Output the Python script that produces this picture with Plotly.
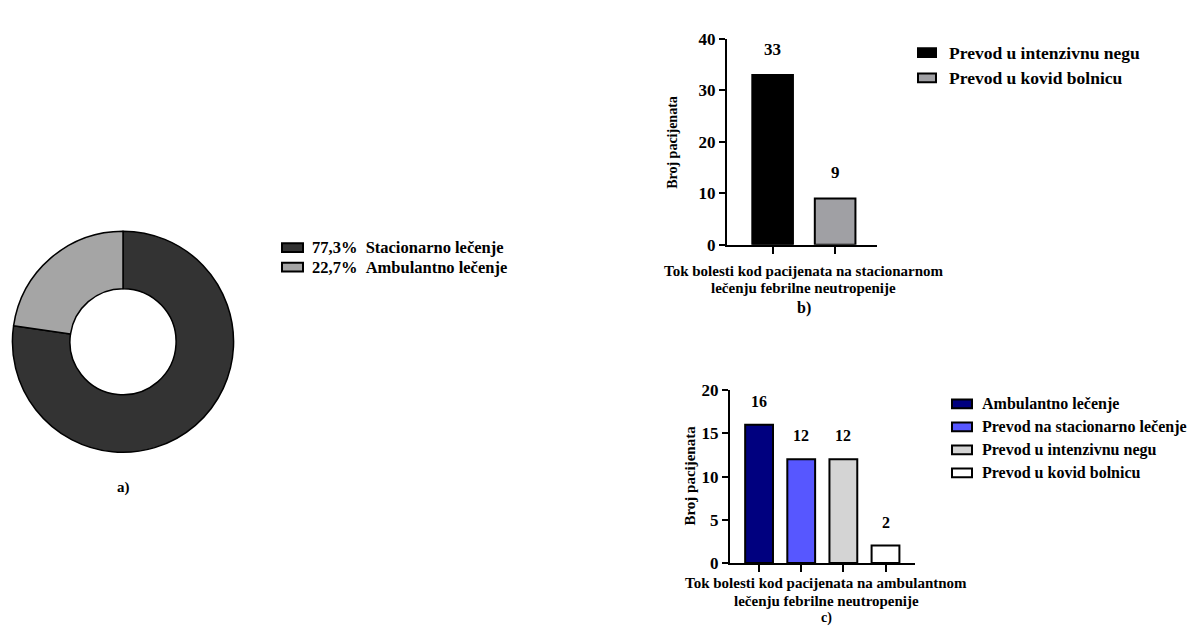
import plotly.graph_objects as go

# --- data ---
pie_labels = ["Stacionarno lečenje", "Ambulantno lečenje"]
pie_values = [77.3, 22.7]
pie_colors = ["#333333", "#a5a5a5"]

b_categories = ["Prevod u intenzivnu negu", "Prevod u kovid bolnicu"]
b_values = [33, 9]
b_colors = ["#000000", "#a0a0a4"]

c_categories = ["Ambulantno lečenje", "Prevod na stacionarno lečenje",
                "Prevod u intenzivnu negu", "Prevod u kovid bolnicu"]
c_values = [16, 12, 12, 2]
c_colors = ["#00007f", "#5757ff", "#d4d4d4", "#ffffff"]

W, H = 1189, 634
FONT = "'Liberation Serif', 'Times New Roman', serif"


def px(x):
    return x / W


def py(y):
    return 1 - y / H


fig = go.Figure()

# a) donut
fig.add_trace(go.Pie(
    labels=pie_labels, values=pie_values, hole=0.48, sort=False,
    direction="clockwise", rotation=0,
    marker=dict(colors=pie_colors, line=dict(color="black", width=1.5)),
    textinfo="none", hoverinfo="label+percent", showlegend=False,
    domain=dict(x=[px(9), px(237)], y=[py(457), py(229)]),
))

# b) bars
for i, (cat, val, col) in enumerate(zip(b_categories, b_values, b_colors)):
    fig.add_trace(go.Bar(
        x=[i], y=[val], name=cat, width=0.65,
        marker=dict(color=col, line=dict(color="black", width=2)),
        xaxis="x", yaxis="y", showlegend=False,
    ))

# c) bars
for i, (cat, val, col) in enumerate(zip(c_categories, c_values, c_colors)):
    fig.add_trace(go.Bar(
        x=[i], y=[val], name=cat, width=0.66,
        marker=dict(color=col, line=dict(color="black", width=2)),
        xaxis="x2", yaxis="y2", showlegend=False,
    ))

axis_common = dict(
    showline=True, linecolor="black", linewidth=2,
    ticks="outside", tickcolor="black", tickwidth=2, ticklen=6,
    showgrid=False, zeroline=False, fixedrange=True,
    tickfont=dict(family=FONT, size=17, color="black", weight="bold"),
)

fig.update_layout(
    width=W, height=H, margin=dict(l=0, r=0, t=0, b=0),
    paper_bgcolor="white", plot_bgcolor="white",
    showlegend=False, barmode="overlay",
    xaxis=dict(axis_common, domain=[px(727), px(877)], range=[-0.73, 1.67],
               tickvals=list(range(len(b_values))), ticktext=[""] * len(b_values),
               ticklen=7, anchor="y"),
    yaxis=dict(axis_common, domain=[py(243), py(31)], range=[0, 40],
               tickvals=[0, 10, 20, 30, 40], anchor="x"),
    xaxis2=dict(axis_common, domain=[px(730), px(915)], range=[-0.69, 3.7],
                tickvals=list(range(len(c_values))), ticktext=[""] * len(c_values),
                ticklen=7, anchor="y2"),
    yaxis2=dict(axis_common, domain=[py(571), py(393)], range=[0, 20],
                tickvals=[0, 5, 10, 15, 20], anchor="x2"),
)

annotations = []
shapes = []


def txt(x, y, text, size=15, xanchor="center", angle=0):
    annotations.append(dict(
        x=px(x), y=py(y), xref="paper", yref="paper", text=text,
        showarrow=False, xanchor=xanchor, yanchor="middle", textangle=angle,
        font=dict(family=FONT, size=size, color="black", weight="bold"),
    ))


def legend_box(x0, yc, color, w=20, h=9):
    shapes.append(dict(
        type="rect", xref="paper", yref="paper",
        x0=px(x0), x1=px(x0 + w), y0=py(yc + h / 2), y1=py(yc - h / 2),
        fillcolor=color, line=dict(color="black", width=2),
    ))


# value labels above bars
for i, val in enumerate(b_values):
    annotations.append(dict(
        x=i, y=val, xref="x", yref="y", text=str(val), showarrow=False,
        yanchor="bottom", yshift=14,
        font=dict(family=FONT, size=17, color="black", weight="bold")))
for i, val in enumerate(c_values):
    annotations.append(dict(
        x=i, y=val, xref="x2", yref="y2", text=str(val), showarrow=False,
        yanchor="bottom", yshift=13,
        font=dict(family=FONT, size=16, color="black", weight="bold")))

# a) legend and label
for k, (lab, val, col) in enumerate(zip(pie_labels, pie_values, pie_colors)):
    yc = 246 + 20 * k
    legend_box(282, yc, col, w=21, h=9)
    pct = f"{val:.1f}".replace(".", ",")
    txt(310, yc, f"{pct}%&nbsp;&nbsp;{lab}", size=16.5, xanchor="left")
txt(123, 493, "a)", size=15)

# b) legend, axis titles, label
for k, (cat, col) in enumerate(zip(b_categories, b_colors)):
    yc = 45 + 26 * k
    legend_box(918, yc, col, w=18, h=9)
    txt(947, yc, cat, size=17.5, xanchor="left")
txt(673, 138, "Broj pacijenata", size=14, angle=-90)
txt(804, 270, "Tok bolesti kod pacijenata na stacionarnom", size=15)
txt(804, 288, "lečenju febrilne neutropenije", size=15)
txt(804, 308, "b)", size=16)

# c) legend, axis titles, label
for k, (cat, col) in enumerate(zip(c_categories, c_colors)):
    yc = 407 + 23.7 * k
    legend_box(952, yc, col)
    txt(980, yc, cat, size=16, xanchor="left")
txt(690, 481, "Broj pacijenata", size=15, angle=-90)
txt(826, 592, "Tok bolesti kod pacijenata na ambulantnom", size=15)
txt(826, 610, "lečenju febrilne neutropenije", size=15)
txt(826, 628, "c)", size=14)

fig.update_layout(annotations=annotations, shapes=shapes)
fig.write_html("out.html")
